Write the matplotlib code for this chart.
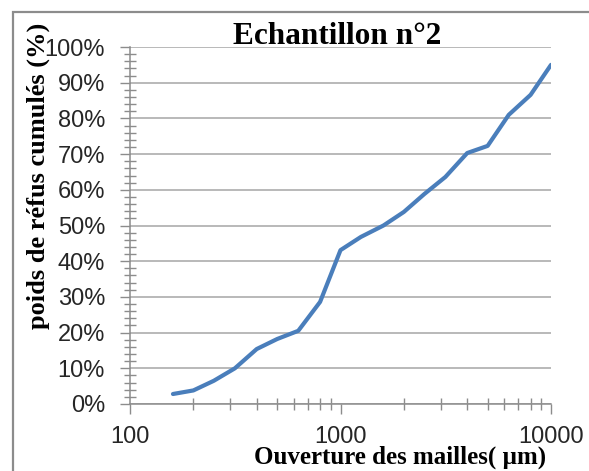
import matplotlib
matplotlib.use("Agg")
import matplotlib.pyplot as plt
from matplotlib.ticker import FixedLocator, MultipleLocator, PercentFormatter, NullFormatter
from matplotlib.patches import Rectangle

# ouvertures des tamis (µm) et refus cumulés (%)
ouverture = [160, 200, 250, 315, 400, 500, 630, 800, 1000, 1250, 1600, 2000,
             2500, 3150, 4000, 5000, 6300, 8000, 10000]
refus = [2.8, 3.8, 6.5, 10.0, 15.4, 18.2, 20.5, 28.6, 43.1, 46.8, 50.0, 53.8,
         58.8, 63.6, 70.3, 72.3, 81.0, 86.6, 95.0]

x_ticks = [100, 1000, 10000]
x_tick_labels = ["100", "1000", "10000"]

W, H = 589, 471
fig = plt.figure(figsize=(W / 100, H / 100), dpi=100)

# cadre gris autour du graphique
fig.patches.append(Rectangle((13 / W, -0.1), 1.2, 1 - 12 / H + 0.1,
                             transform=fig.transFigure, fill=False,
                             edgecolor="#8c8c8c", linewidth=1.6))

ax = fig.add_axes([130 / W, 1 - 404 / H, 421 / W, 357 / H])
ax.plot(ouverture, refus, color="#4A7EBB", linewidth=3.0, solid_capstyle="round")

ax.set_xscale("log")
ax.set_xlim(100, 10000)
ax.set_ylim(0, 100)

ax.xaxis.set_major_locator(FixedLocator(x_ticks))
ax.set_xticklabels(x_tick_labels)
ax.xaxis.set_minor_formatter(NullFormatter())
ax.yaxis.set_major_locator(MultipleLocator(10))
ax.yaxis.set_minor_locator(MultipleLocator(2))
ax.yaxis.set_major_formatter(PercentFormatter(decimals=0))

ax.grid(axis="y", which="major", color="#a6a6a6", linewidth=1.1)
ax.set_axisbelow(True)
for s in ["top", "right"]:
    ax.spines[s].set_visible(False)
for s in ["left", "bottom"]:
    ax.spines[s].set_color("#8c8c8c")
    ax.spines[s].set_linewidth(1.1)

ax.tick_params(axis="both", which="major", direction="out", length=7,
               width=1.0, color="#8c8c8c", labelcolor="#262626")
ax.tick_params(axis="both", which="minor", direction="inout", length=9,
               width=1.0, color="#8c8c8c")
ax.tick_params(axis="x", which="major", pad=9)
ax.tick_params(axis="y", which="major", pad=11)
for lab in ax.get_xticklabels() + ax.get_yticklabels():
    lab.set_fontfamily("Liberation Sans")
    lab.set_fontsize(17)

serif = dict(family="Liberation Serif", weight="bold", color="black")
fig.text(337 / W, 1 - 36 / H, "Echantillon n°2", ha="center", va="center",
         fontsize=22.5, **serif)
fig.text(400 / W, 1 - 464 / H, "Ouverture des mailles( µm)", ha="center",
         va="baseline", fontsize=18, **serif)
fig.text(38 / W, 1 - 176 / H, "poids de réfus cumulés (%)", ha="center",
         va="center", rotation=90, fontsize=19, **serif)

fig.savefig("out.png", dpi=100)
